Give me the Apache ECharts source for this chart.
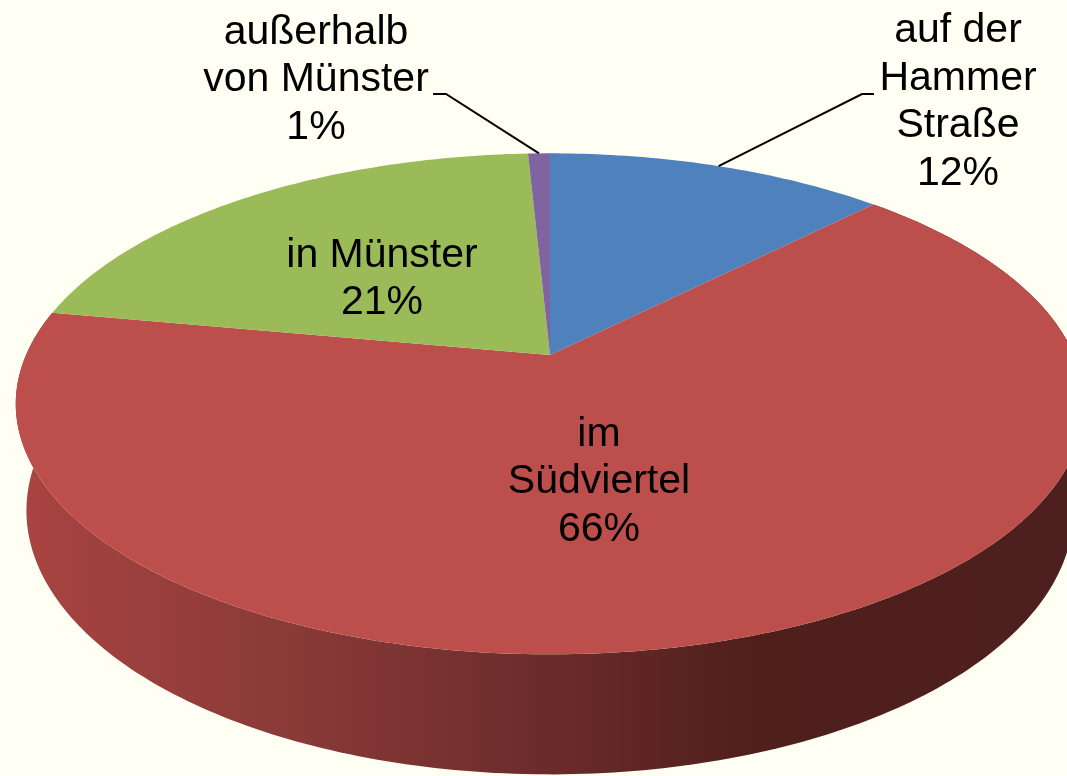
<!DOCTYPE html>
<html>
<head>
<meta charset="utf-8">
<title>Pie</title>
<script src="https://cdn.jsdelivr.net/npm/echarts@6/dist/echarts.min.js"></script>
<style>
html, body { margin: 0; background: #fffff3; }
#main { width: 1067px; height: 776px; }
</style>
</head>
<body>
<div id="main"></div>
<script>
// values, in drawing order (clockwise from the top)
const categories = ['auf der\nHammer\nStraße', 'im\nSüdviertel', 'in Münster', 'außerhalb\nvon Münster'];
const shares = [12.4, 65.5, 21.3, 0.8];
const colors = ['#4f81bd', '#bc4f4c', '#9bbb59', '#8064a2'];

// label centres in pixels, and where each leader line turns (null = no line)
const labelCenters = [[958, 102], [599, 482], [382, 279], [316, 80]];
const leaderKnees = [[[874, 94], [862, 94]], null, null, [[433, 94], [446, 94]]];

const total = shares.reduce((a, b) => a + b, 0);
const starts = shares.map((v, i) => shares.slice(0, i).reduce((a, b) => a + b, 0));

// tilted disc: apex of the pie, perspective strength, disc thickness
const cx = 550, cy = 355, A = 524, B = 241, K = 0.195, DEPTH = 104, BOTTOM_SCALE = 0.98;

function rim(share, lower) {
  const a = share / total * Math.PI * 2;
  const X = Math.sin(a), Y = -Math.cos(a);
  const w = 1 - K * Y;
  const s = lower ? BOTTOM_SCALE : 1;
  return [cx + A * X * s / w, cy + B * Y / w + (lower ? DEPTH / Math.pow(w, 0.66) : 0)];
}

function arc(from, to, lower) {
  const pts = [];
  const n = Math.max(2, Math.ceil((to - from) * 4));
  for (let i = 0; i <= n; i++) pts.push(rim(from + (to - from) * i / n, lower));
  return pts;
}

const wallFill = new echarts.graphic.LinearGradient(0, 0, 1, 0, [
  { offset: 0, color: '#a94442' },
  { offset: 0.26, color: '#893a37' },
  { offset: 0.5, color: '#6b2b2b' },
  { offset: 0.69, color: '#4f1f1c' },
  { offset: 1, color: '#4d1f1e' }
]);

const rows = shares.map((v, i) => [i, v]);

const option = {
  backgroundColor: '#fffff3',
  animation: false,
  series: [
    {
      // side wall, only the big slice shows it from this angle
      type: 'custom',
      coordinateSystem: 'none',
      silent: true,
      z: 1,
      data: [rows[1]],
      renderItem: function (params, api) {
        const i = api.value(0);
        const top = arc(starts[i], starts[i] + api.value(1), false);
        const low = arc(starts[i], starts[i] + api.value(1), true).reverse();
        return { type: 'polygon', shape: { points: top.concat(low) }, style: { fill: wallFill } };
      }
    },
    {
      type: 'custom',
      coordinateSystem: 'none',
      silent: true,
      z: 2,
      data: rows,
      renderItem: function (params, api) {
        const i = api.value(0);
        const pts = [[cx, cy]].concat(arc(starts[i], starts[i] + api.value(1), false));
        return { type: 'polygon', shape: { points: pts }, style: { fill: colors[i] } };
      }
    },
    {
      // leader lines and texts
      type: 'custom',
      coordinateSystem: 'none',
      silent: true,
      z: 3,
      data: rows,
      renderItem: function (params, api) {
        const i = api.value(0);
        const children = [{
          type: 'text',
          x: labelCenters[i][0],
          y: labelCenters[i][1],
          style: {
            text: categories[i] + '\n' + Math.round(api.value(1)) + '%',
            font: '41px "Liberation Sans", Arial, sans-serif',
            lineHeight: 47.5,
            fill: '#000',
            align: 'center',
            verticalAlign: 'middle'
          }
        }];
        if (leaderKnees[i]) {
          const end = rim(starts[i] + api.value(1) / 2, false);
          children.push({
            type: 'polyline',
            shape: { points: leaderKnees[i].concat([end]) },
            style: { stroke: '#000', lineWidth: 2, fill: null }
          });
        }
        return { type: 'group', children: children };
      }
    }
  ]
};

const myChart = echarts.init(document.getElementById('main'));
myChart.setOption(option);
</script>
</body>
</html>
